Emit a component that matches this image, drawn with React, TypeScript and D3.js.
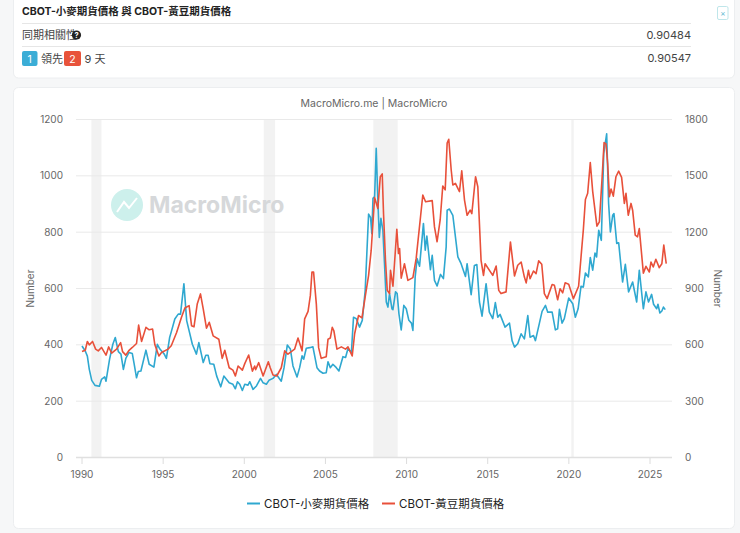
import React from "react";
import * as d3 from "d3";

// [year, value]. wheat is on the left axis, soybean on the right
const wheat: [number, number][] = [
  [1990.0, 396], [1990.2, 378], [1990.33, 360], [1990.45, 313], [1990.6, 274], [1990.8, 256], [1991.07, 253],
  [1991.2, 277], [1991.4, 286], [1991.48, 271], [1991.7, 349], [1991.9, 402], [1992.05, 426], [1992.24, 376],
  [1992.4, 367], [1992.55, 313], [1992.7, 352], [1992.9, 373], [1993.1, 369], [1993.2, 337], [1993.36, 283],
  [1993.47, 305], [1993.63, 307], [1993.94, 381], [1994.14, 331], [1994.43, 321], [1994.64, 402], [1994.8, 385],
  [1995.07, 367], [1995.2, 352], [1995.4, 426], [1995.5, 446], [1995.72, 492], [1995.93, 509], [1996.07, 509],
  [1996.28, 617], [1996.45, 486], [1996.8, 402], [1997.05, 367], [1997.2, 408], [1997.47, 337], [1997.63, 363],
  [1997.77, 363], [1997.88, 333], [1998.12, 331], [1998.3, 289], [1998.55, 251], [1998.74, 289], [1999.07, 265],
  [1999.3, 260], [1999.45, 244], [1999.58, 269], [1999.72, 260], [1999.88, 238], [2000.03, 260], [2000.23, 257],
  [2000.34, 269], [2000.54, 242], [2000.75, 254], [2001.0, 281], [2001.16, 265], [2001.36, 260], [2001.52, 274],
  [2001.77, 281], [2001.98, 295], [2002.28, 271], [2002.45, 319], [2002.65, 399], [2002.84, 385], [2003.0, 325],
  [2003.25, 286], [2003.41, 319], [2003.56, 361], [2003.66, 349], [2003.82, 388], [2004.03, 390], [2004.23, 393],
  [2004.48, 319], [2004.64, 307], [2004.85, 299], [2005.05, 301], [2005.16, 340], [2005.3, 319], [2005.46, 331],
  [2005.67, 319], [2005.83, 307], [2006.08, 358], [2006.24, 355], [2006.39, 387], [2006.6, 373], [2006.73, 498],
  [2006.9, 493], [2007.1, 463], [2007.27, 487], [2007.45, 593], [2007.66, 864], [2007.78, 852], [2007.86, 795],
  [2007.93, 920], [2008.03, 926], [2008.13, 1098], [2008.23, 914], [2008.32, 781], [2008.42, 849], [2008.54, 807],
  [2008.64, 688], [2008.75, 552], [2008.85, 534], [2008.95, 582], [2009.1, 528], [2009.16, 525], [2009.32, 588],
  [2009.42, 582], [2009.53, 510], [2009.67, 453], [2009.83, 540], [2009.98, 528], [2010.14, 487], [2010.3, 477],
  [2010.39, 451], [2010.53, 641], [2010.65, 706], [2010.8, 679], [2011.04, 831], [2011.15, 736], [2011.25, 786],
  [2011.47, 667], [2011.58, 718], [2011.72, 629], [2011.88, 609], [2012.09, 650], [2012.27, 635], [2012.44, 748],
  [2012.5, 878], [2012.64, 882], [2012.85, 860], [2013.16, 712], [2013.36, 688], [2013.63, 643], [2013.73, 688],
  [2013.98, 578], [2014.18, 682], [2014.33, 685], [2014.49, 552], [2014.65, 502], [2014.9, 617], [2015.1, 516],
  [2015.31, 493], [2015.47, 550], [2015.62, 498], [2015.76, 508], [2016.07, 463], [2016.34, 477], [2016.5, 415],
  [2016.65, 392], [2016.85, 404], [2017.06, 439], [2017.26, 421], [2017.47, 504], [2017.61, 427], [2017.82, 433],
  [2017.94, 415], [2018.19, 478], [2018.35, 519], [2018.56, 540], [2018.7, 516], [2018.97, 516], [2019.17, 453],
  [2019.31, 457], [2019.42, 526], [2019.58, 477], [2019.72, 493], [2019.99, 566], [2020.24, 546], [2020.4, 498],
  [2020.57, 528], [2020.75, 608], [2020.89, 605], [2021.02, 655], [2021.2, 641], [2021.32, 710], [2021.47, 665],
  [2021.61, 726], [2021.71, 712], [2021.84, 807], [2022.0, 771], [2022.15, 1080], [2022.33, 1149], [2022.45, 902],
  [2022.56, 801], [2022.7, 860], [2022.78, 866], [2022.95, 760], [2023.07, 762], [2023.31, 623], [2023.48, 686],
  [2023.68, 588], [2023.93, 623], [2024.18, 552], [2024.34, 665], [2024.59, 528], [2024.75, 588], [2024.91, 552],
  [2025.1, 579], [2025.22, 544], [2025.41, 528], [2025.49, 544], [2025.61, 513], [2025.73, 520], [2025.83, 534],
  [2025.94, 525],
];

const soybean: [number, number][] = [
  [1990.0, 564], [1990.2, 571], [1990.33, 618], [1990.45, 600], [1990.65, 618], [1990.84, 577], [1991.0, 568],
  [1991.2, 586], [1991.48, 545], [1991.64, 589], [1991.83, 556], [1992.13, 577], [1992.38, 612], [1992.5, 564],
  [1992.7, 545], [1992.9, 571], [1993.1, 586], [1993.36, 607], [1993.49, 705], [1993.67, 618], [1993.94, 693],
  [1994.14, 680], [1994.35, 684], [1994.49, 600], [1994.74, 541], [1994.9, 559], [1995.3, 577], [1995.5, 595],
  [1995.83, 666], [1996.13, 747], [1996.34, 796], [1996.6, 809], [1996.75, 702], [1996.9, 696], [1997.1, 817],
  [1997.3, 871], [1997.47, 791], [1997.67, 689], [1997.84, 720], [1998.08, 648], [1998.43, 630], [1998.64, 528],
  [1998.8, 571], [1999.07, 478], [1999.3, 465], [1999.45, 434], [1999.62, 487], [1999.88, 465], [2000.03, 500],
  [2000.27, 546], [2000.5, 460], [2000.64, 487], [2000.7, 468], [2000.89, 505], [2001.16, 434], [2001.48, 510],
  [2001.6, 478], [2001.77, 439], [2002.0, 434], [2002.28, 478], [2002.49, 568], [2002.69, 550], [2003.1, 577],
  [2003.31, 636], [2003.56, 568], [2003.72, 738], [2003.93, 778], [2004.07, 862], [2004.17, 987], [2004.27, 987],
  [2004.44, 817], [2004.58, 585], [2004.74, 528], [2005.05, 537], [2005.16, 630], [2005.3, 636], [2005.42, 693],
  [2005.52, 675], [2005.71, 577], [2005.98, 589], [2006.24, 577], [2006.39, 589], [2006.65, 541], [2006.8, 659],
  [2007.04, 756], [2007.25, 744], [2007.45, 855], [2007.66, 970], [2007.82, 1104], [2008.03, 1385], [2008.23, 1326],
  [2008.38, 1495], [2008.5, 1510], [2008.58, 1299], [2008.7, 1050], [2008.81, 890], [2008.95, 873], [2009.01, 997],
  [2009.16, 912], [2009.4, 1215], [2009.5, 1086], [2009.57, 1113], [2009.67, 955], [2009.87, 1032], [2010.08, 943],
  [2010.39, 958], [2010.59, 1059], [2010.86, 1282], [2011.0, 1398], [2011.17, 1362], [2011.58, 1368], [2011.72, 1228],
  [2011.88, 1149], [2012.07, 1265], [2012.23, 1446], [2012.38, 1425], [2012.5, 1674], [2012.6, 1695], [2012.75, 1531],
  [2012.85, 1451], [2013.01, 1460], [2013.16, 1433], [2013.26, 1416], [2013.4, 1527], [2013.57, 1371], [2013.73, 1290],
  [2013.92, 1317], [2014.02, 1299], [2014.25, 1495], [2014.39, 1442], [2014.59, 1050], [2014.74, 970], [2014.84, 1032],
  [2015.31, 970], [2015.52, 1020], [2015.68, 890], [2015.82, 873], [2016.13, 882], [2016.4, 1148], [2016.65, 967],
  [2016.85, 1024], [2017.06, 1041], [2017.26, 961], [2017.37, 930], [2017.51, 997], [2017.61, 952], [2017.82, 993],
  [2017.98, 979], [2018.14, 1047], [2018.33, 1029], [2018.49, 873], [2018.66, 846], [2018.97, 921], [2019.11, 917],
  [2019.31, 840], [2019.46, 899], [2019.62, 877], [2019.77, 930], [2019.99, 923], [2020.28, 846], [2020.6, 912],
  [2020.75, 1068], [2020.89, 1210], [2021.02, 1374], [2021.16, 1407], [2021.32, 1571], [2021.47, 1416], [2021.73, 1232],
  [2021.88, 1255], [2022.04, 1478], [2022.17, 1677], [2022.29, 1670], [2022.39, 1567], [2022.5, 1389], [2022.6, 1430],
  [2022.74, 1392], [2022.9, 1495], [2023.07, 1525], [2023.25, 1492], [2023.42, 1353], [2023.52, 1407], [2023.66, 1290],
  [2023.83, 1353], [2023.93, 1317], [2024.09, 1184], [2024.23, 1175], [2024.34, 1219], [2024.59, 982], [2024.75, 1018],
  [2024.96, 988], [2025.06, 1041], [2025.2, 1015], [2025.36, 1056], [2025.57, 1011], [2025.73, 1032], [2025.85, 1131],
  [2026.0, 1032],
];

const recessions: [number, number][] = [[1990.58, 1991.2], [2001.2, 2001.9], [2007.95, 2009.45], [2020.15, 2020.3]];
const yearTicks = [1990, 1995, 2000, 2005, 2010, 2015, 2020, 2025];
const leftTicks = [0, 200, 400, 600, 800, 1000, 1200];
const rightTicks = [0, 300, 600, 900, 1200, 1500, 1800];

const BLUE = "#2fa8d0";
const RED = "#e8503a";
const FONT = "Inter, 'Noto Sans CJK TC', sans-serif";

const x = d3.scaleLinear().domain([1990, 2025]).range([82, 650]);
const yLeft = d3.scaleLinear().domain([0, 1200]).range([457.5, 119.5]);
const yRight = d3.scaleLinear().domain([0, 1800]).range([457.5, 119.5]);

const wheatLine = d3.line<[number, number]>().x((d) => x(d[0])).y((d) => yLeft(d[1]));
const soybeanLine = d3.line<[number, number]>().x((d) => x(d[0])).y((d) => yRight(d[1]));

const App = () => {
  return (
    <div style={{ position: "fixed", left: 0, top: 0 }}>
      <svg width={740} height={533} style={{ display: "block" }} fontFamily={FONT}>
        <rect width={740} height={533} fill="#f6f7f8" />

        {/* top card */}
        <rect x={13.5} y={-10} width={721} height={88} rx={5} fill="#fff" stroke="#eceef0" />
        <text x={22} y={15} fontSize={10.5} fontWeight={700} fill="#222">
          CBOT-小麥期貨價格 與 CBOT-黃豆期貨價格
        </text>
        <line x1={22} x2={691} y1={23.5} y2={23.5} stroke="#e6e6e6" />
        <line x1={22} x2={691} y1={46.5} y2={46.5} stroke="#e6e6e6" />
        <text x={22} y={39} fontSize={11} fill="#444">同期相關性</text>
        <circle cx={76.5} cy={35} r={4.6} fill="#222" />
        <text x={76.5} y={38} fontSize={7.5} fontWeight={700} fill="#fff" textAnchor="middle">?</text>
        <text x={691} y={39} fontSize={11} fill="#444" textAnchor="end">0.90484</text>
        <rect x={22} y={51} width={15.5} height={15} rx={2} fill="#3badd6" />
        <text x={29.7} y={62.5} fontSize={10.5} fill="#fff" textAnchor="middle">1</text>
        <text x={41} y={63} fontSize={11} fill="#444">領先</text>
        <rect x={64} y={51} width={17} height={15} rx={2} fill="#e8533b" />
        <text x={72.5} y={62.5} fontSize={10.5} fill="#fff" textAnchor="middle">2</text>
        <text x={84.5} y={63} fontSize={11} fill="#444">9 天</text>
        <text x={691} y={62} fontSize={11} fill="#444" textAnchor="end">0.90547</text>
        <rect x={717.5} y={6.5} width={10.5} height={13} rx={1.5} fill="#fff" stroke="#bfe6ea" />
        <text x={722.8} y={16} fontSize={8} fill="#5bb8cf" textAnchor="middle">×</text>

        {/* chart card */}
        <rect x={13.5} y={87.5} width={721} height={441} rx={5} fill="#fff" stroke="#eceef0" />
        <text x={374} y={107} fontSize={10.5} fill="#666" textAnchor="middle">MacroMicro.me | MacroMicro</text>

        {recessions.map((d, i) => (
          <rect key={i} x={x(d[0])} width={x(d[1]) - x(d[0])} y={119.5} height={338} fill="#f2f2f2" />
        ))}

        {/* watermark */}
        <circle cx={127} cy={205} r={16} fill="#cdf0ec" />
        <path d="M117 212 L124 202 L129 208 L137 198" fill="none" stroke="#fff" strokeWidth={2} />
        <text x={149} y={213} fontSize={23} fontWeight={700} fill="#d6d8da">MacroMicro</text>

        {leftTicks.map((t) => (
          <g key={t}>
            <line x1={76} x2={672} y1={yLeft(t)} y2={yLeft(t)} stroke={t === 0 ? "#e0e0e0" : "#e9e9e9"} strokeWidth={t === 0 ? 1.5 : 1} />
            <text x={63} y={yLeft(t) + 3.5} fontSize={10} fill="#666" textAnchor="end">{t}</text>
          </g>
        ))}
        {rightTicks.map((t) => (
          <text key={t} x={685} y={yRight(t) + 3.5} fontSize={10} fill="#666" textAnchor="start">{t}</text>
        ))}
        {yearTicks.map((t) => (
          <g key={t}>
            <line x1={x(t)} x2={x(t)} y1={458} y2={464} stroke="#dcdcdc" />
            <text x={x(t)} y={453 + 25} fontSize={10} fill="#666" textAnchor="middle">{t}</text>
          </g>
        ))}

        <text transform="translate(34,288.5) rotate(-90)" fontSize={10} fill="#666" textAnchor="middle">Number</text>
        <text transform="translate(714,288.5) rotate(90)" fontSize={10} fill="#666" textAnchor="middle">Number</text>

        <path d={wheatLine(wheat)!} fill="none" stroke={BLUE} strokeWidth={1.6} strokeLinejoin="round" />
        <path d={soybeanLine(soybean)!} fill="none" stroke={RED} strokeWidth={1.6} strokeLinejoin="round" />

        {/* legend */}
        <line x1={247} x2={260} y1={503.5} y2={503.5} stroke={BLUE} strokeWidth={2} />
        <text x={264} y={507.5} fontSize={11.5} fill="#222">CBOT-小麥期貨價格</text>
        <line x1={382} x2={395} y1={503.5} y2={503.5} stroke={RED} strokeWidth={2} />
        <text x={399} y={507.5} fontSize={11.5} fill="#222">CBOT-黃豆期貨價格</text>
      </svg>
    </div>
  );
};

export default App;
